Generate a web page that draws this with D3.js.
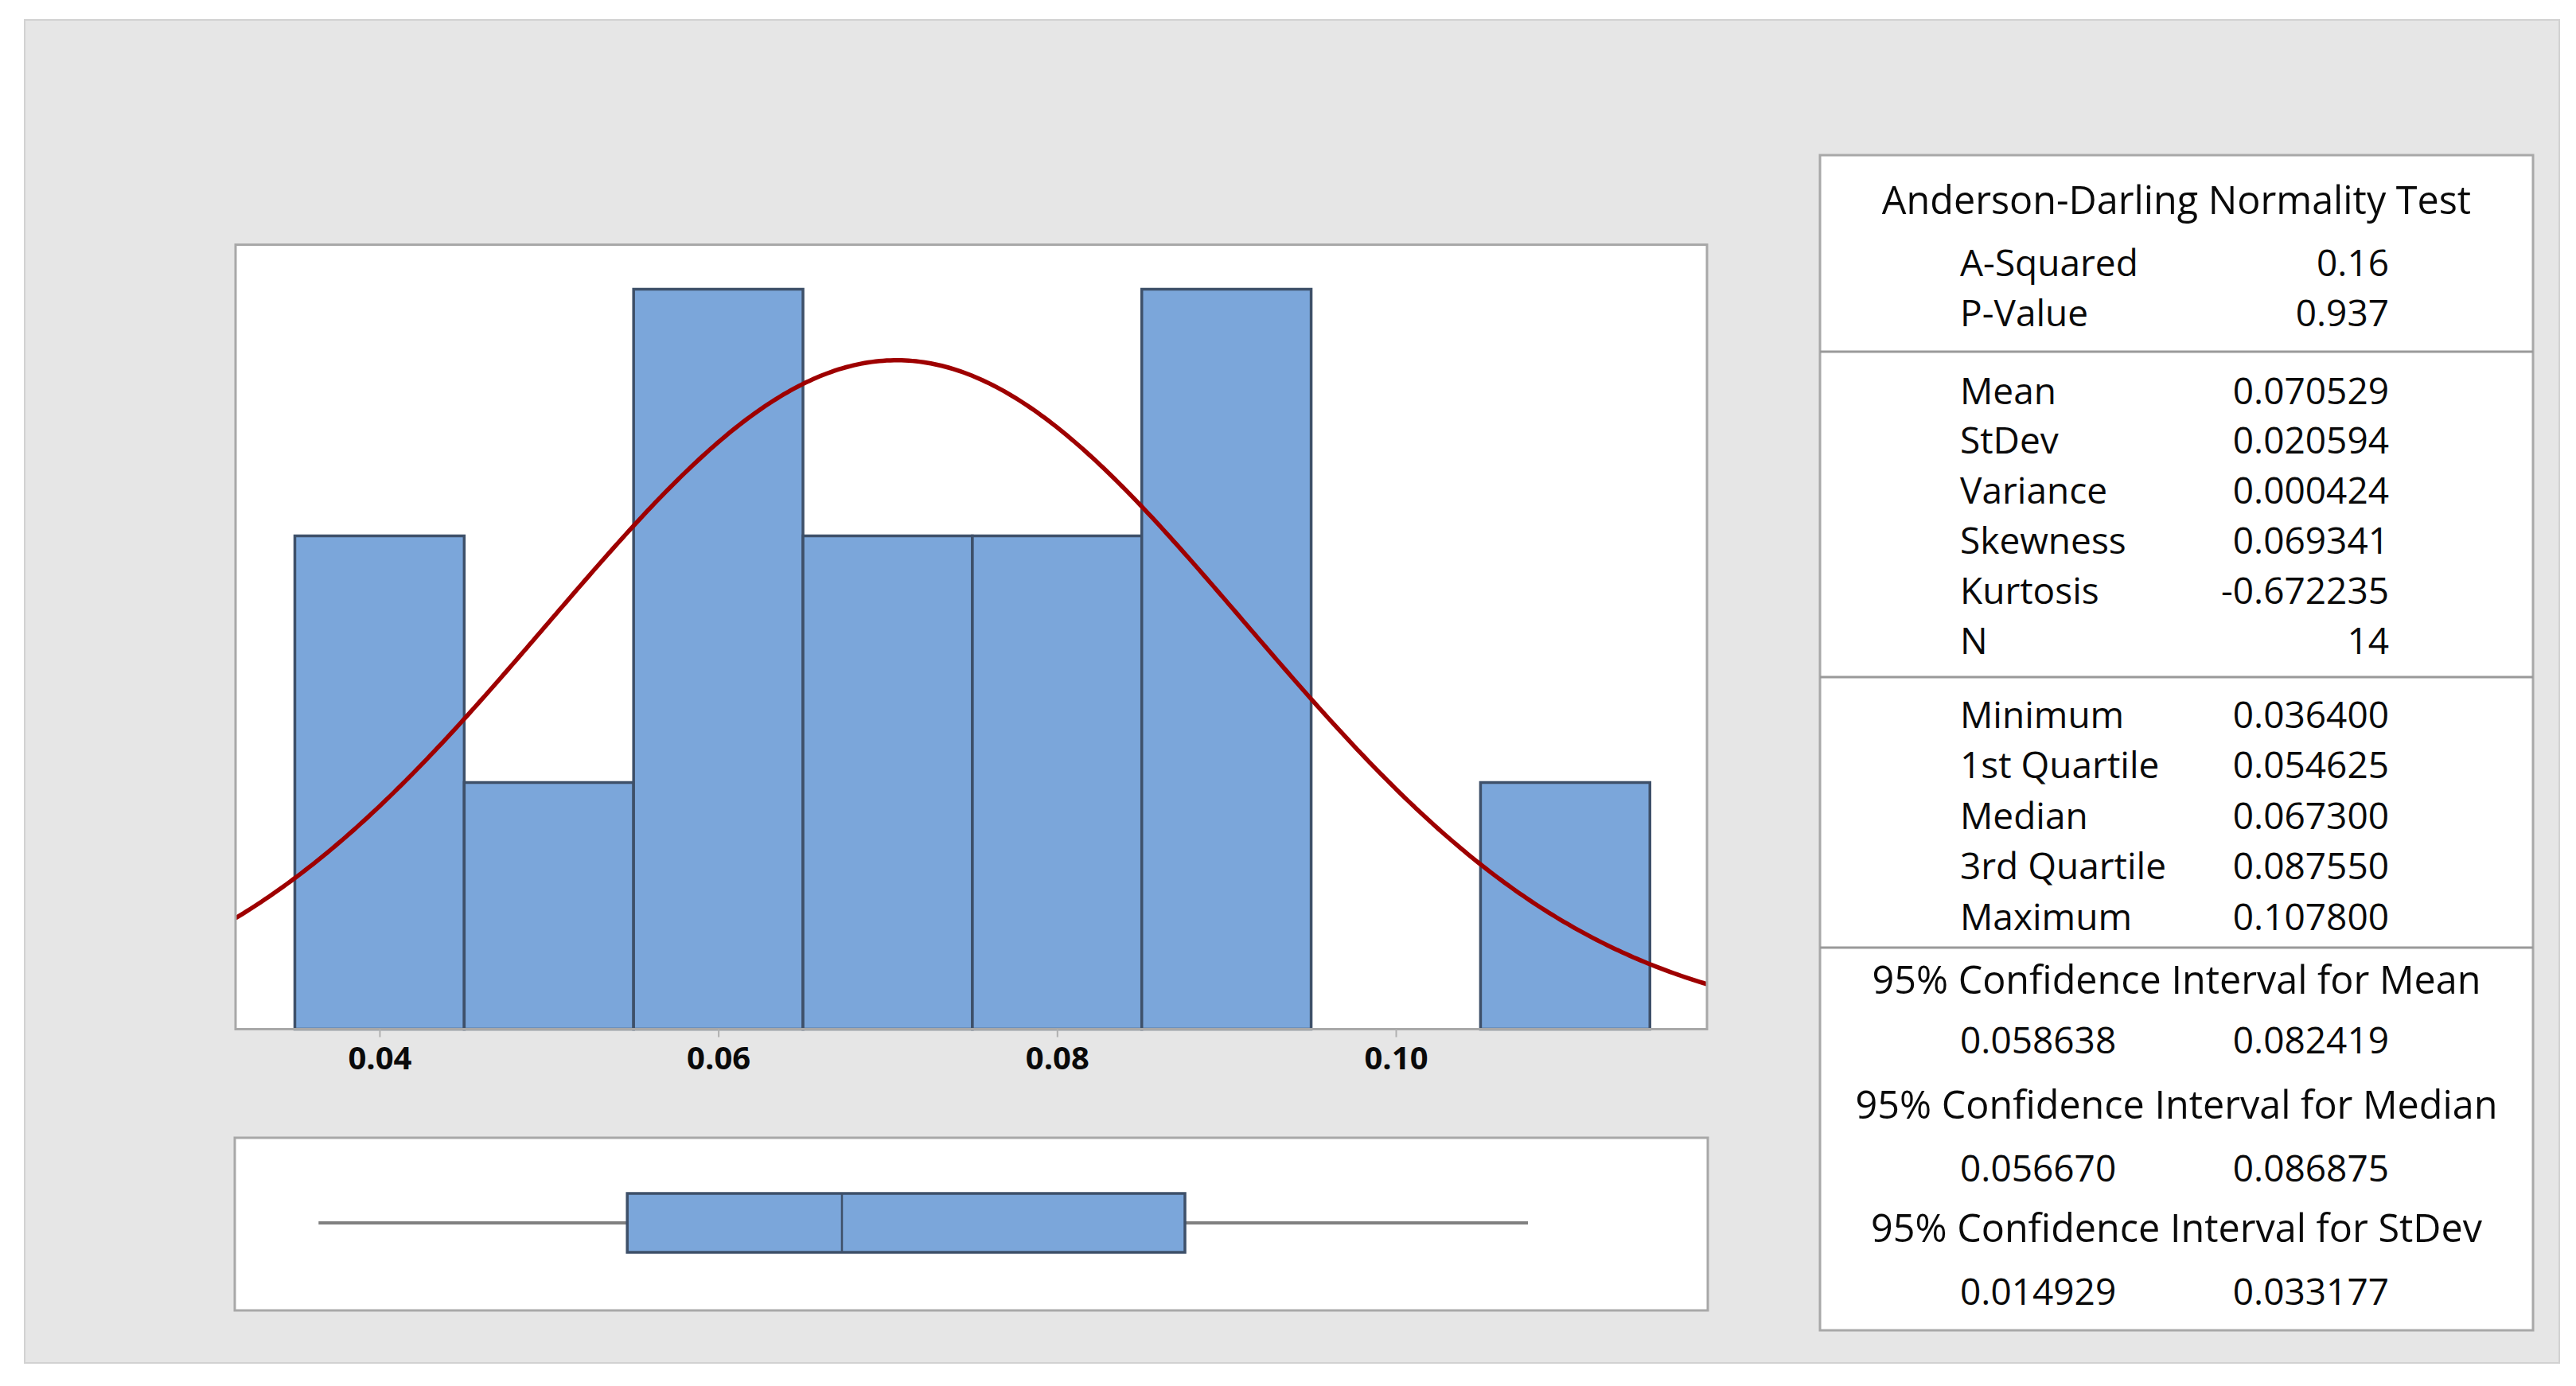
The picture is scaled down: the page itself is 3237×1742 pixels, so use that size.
<!DOCTYPE html>
<html>
<head>
<meta charset="utf-8">
<script src="https://cdn.jsdelivr.net/npm/d3@7"></script>
<style>
  body { margin: 0; background: #fff; }
  text { font-family: "Open Sans", sans-serif; fill: #0a0a0a; }
</style>
</head>
<body>
<script>
const width = 3237;
const height = 1742;

// Histogram bins (left edges) and counts
const binStarts = [0.035, 0.045, 0.055, 0.065, 0.075, 0.085, 0.095, 0.105];
const binCounts = [2, 1, 3, 2, 2, 3, 0, 1];
const binWidth = 0.01;
const xTicks = [0.04, 0.06, 0.08, 0.10];

// Summary table
const adLabels = ["A-Squared", "P-Value"];
const adValues = ["0.16", "0.937"];
const momentLabels = ["Mean", "StDev", "Variance", "Skewness", "Kurtosis", "N"];
const momentValues = ["0.070529", "0.020594", "0.000424", "0.069341", "-0.672235", "14"];
const quantLabels = ["Minimum", "1st Quartile", "Median", "3rd Quartile", "Maximum"];
const quantValues = ["0.036400", "0.054625", "0.067300", "0.087550", "0.107800"];
const ciTitles = ["95% Confidence Interval for Mean", "95% Confidence Interval for Median", "95% Confidence Interval for StDev"];
const ciLower = ["0.058638", "0.056670", "0.014929"];
const ciUpper = ["0.082419", "0.086875", "0.033177"];

const mean = +momentValues[0];
const sd = +momentValues[1];
const n = +momentValues[5];

const svg = d3.select("body").append("svg")
  .attr("width", width)
  .attr("height", height);

// grey background
svg.append("rect")
  .attr("x", 31).attr("y", 25)
  .attr("width", 3185).attr("height", 1688)
  .attr("fill", "#e6e6e6")
  .attr("stroke", "#d2d2d2")
  .attr("stroke-width", 2);

// Histogram panel
const hp = {left: 296, right: 2145, top: 307.5, bottom: 1293.5};

const x = d3.scaleLinear().domain([0.0315, 0.11837]).range([hp.left, hp.right]);
const y = d3.scaleLinear().domain([0, (hp.bottom - hp.top) / 310]).range([hp.bottom, hp.top]);

svg.append("rect")
  .attr("x", hp.left).attr("y", hp.top)
  .attr("width", hp.right - hp.left).attr("height", hp.bottom - hp.top)
  .attr("fill", "#fff");

svg.append("clipPath").attr("id", "clip")
  .append("rect")
  .attr("x", hp.left).attr("y", hp.top)
  .attr("width", hp.right - hp.left).attr("height", hp.bottom - hp.top);

svg.append("g")
  .selectAll("rect")
  .data(binStarts.map((s, i) => ({s, c: binCounts[i]})).filter(d => d.c > 0))
  .join("rect")
    .attr("x", d => x(d.s))
    .attr("y", d => y(d.c))
    .attr("width", d => x(d.s + binWidth) - x(d.s))
    .attr("height", d => y(0) - y(d.c))
    .attr("fill", "#7ba6da")
    .attr("stroke", "#3e5069")
    .attr("stroke-width", 3.5);

// fitted normal curve (scaled to counts)
const curvePts = d3.range(0, 401).map(i => {
  const v = x.domain()[0] + (x.domain()[1] - x.domain()[0]) * i / 400;
  const pdf = Math.exp(-0.5 * ((v - mean) / sd) ** 2) / (sd * Math.sqrt(2 * Math.PI));
  return [v, pdf * n * binWidth];
});
svg.append("path")
  .datum(curvePts)
  .attr("clip-path", "url(#clip)")
  .attr("fill", "none")
  .attr("stroke", "#9e0000")
  .attr("stroke-width", 5.5)
  .attr("d", d3.line().x(d => x(d[0])).y(d => y(d[1])));

// panel border
svg.append("rect")
  .attr("x", hp.left).attr("y", hp.top)
  .attr("width", hp.right - hp.left).attr("height", hp.bottom - hp.top)
  .attr("fill", "none")
  .attr("stroke", "#a8a8a8")
  .attr("stroke-width", 3);

// x axis
const xAxis = svg.append("g")
  .attr("transform", `translate(0,${hp.bottom})`)
  .call(d3.axisBottom(x).tickValues(xTicks).tickFormat(d3.format(".2f")).tickSize(10).tickPadding(12));
xAxis.select(".domain").remove();
xAxis.selectAll(".tick line").attr("stroke", "#b0b0b0").attr("stroke-width", 2);
xAxis.selectAll(".tick text")
  .attr("font-family", "'Open Sans', sans-serif")
  .attr("font-size", 40)
  .attr("font-weight", 700)
  .attr("fill", "#1a1a1a");

// Box plot panel
const bp = {left: 295, right: 2146, top: 1430, bottom: 1647};
svg.append("rect")
  .attr("x", bp.left).attr("y", bp.top)
  .attr("width", bp.right - bp.left).attr("height", bp.bottom - bp.top)
  .attr("fill", "#fff")
  .attr("stroke", "#a8a8a8")
  .attr("stroke-width", 3);

const q = quantValues.map(Number);
const midY = 1537;
const boxH = 74;
svg.append("g")
  .selectAll("line")
  .data([[q[0], q[1]], [q[3], q[4]]])
  .join("line")
    .attr("x1", d => x(d[0])).attr("x2", d => x(d[1]))
    .attr("y1", midY).attr("y2", midY)
    .attr("stroke", "#808080")
    .attr("stroke-width", 4);
svg.append("rect")
  .attr("x", x(q[1])).attr("y", midY - boxH / 2)
  .attr("width", x(q[3]) - x(q[1])).attr("height", boxH)
  .attr("fill", "#7ba6da")
  .attr("stroke", "#3e5069")
  .attr("stroke-width", 3.5);
svg.append("line")
  .attr("x1", x(q[2])).attr("x2", x(q[2]))
  .attr("y1", midY - boxH / 2).attr("y2", midY + boxH / 2)
  .attr("stroke", "#3e5069")
  .attr("stroke-width", 2.5);

// Summary table
const tp = {left: 2287, right: 3183, top: 195, bottom: 1672};
const cx = (tp.left + tp.right) / 2;
const labX = 2463, valX = 3002;
const fs = 46;

svg.append("rect")
  .attr("x", tp.left).attr("y", tp.top)
  .attr("width", tp.right - tp.left).attr("height", tp.bottom - tp.top)
  .attr("fill", "#fff")
  .attr("stroke", "#a8a8a8")
  .attr("stroke-width", 3);

svg.append("g")
  .selectAll("line")
  .data([442, 851, 1191])
  .join("line")
    .attr("x1", tp.left).attr("x2", tp.right)
    .attr("y1", d => d).attr("y2", d => d)
    .attr("stroke", "#9a9a9a")
    .attr("stroke-width", 3);

const table = svg.append("g").attr("font-size", fs);

function addText(str, xx, yy, anchor, size) {
  table.append("text")
    .attr("x", xx).attr("y", yy)
    .attr("dy", "0.36em")
    .attr("font-size", size || fs)
    .attr("text-anchor", anchor)
    .text(str);
}

addText("Anderson-Darling Normality Test", cx, 252, "middle", 48.5);

function addRows(labels, values, y0, step) {
  labels.forEach((l, i) => {
    addText(l, labX, y0 + i * step, "start");
    addText(values[i], valX, y0 + i * step, "end");
  });
}
addRows(adLabels, adValues, 330, 63);
addRows(momentLabels, momentValues, 491, 62.8);
addRows(quantLabels, quantValues, 898, 63.5);

const ciTitleY = [1232, 1389, 1544];
const ciValY = [1307, 1468, 1623];
ciTitles.forEach((t, i) => {
  addText(t, cx, ciTitleY[i], "middle", 48.5);
  addText(ciLower[i], labX, ciValY[i], "start");
  addText(ciUpper[i], valX, ciValY[i], "end");
});
</script>
</body>
</html>
